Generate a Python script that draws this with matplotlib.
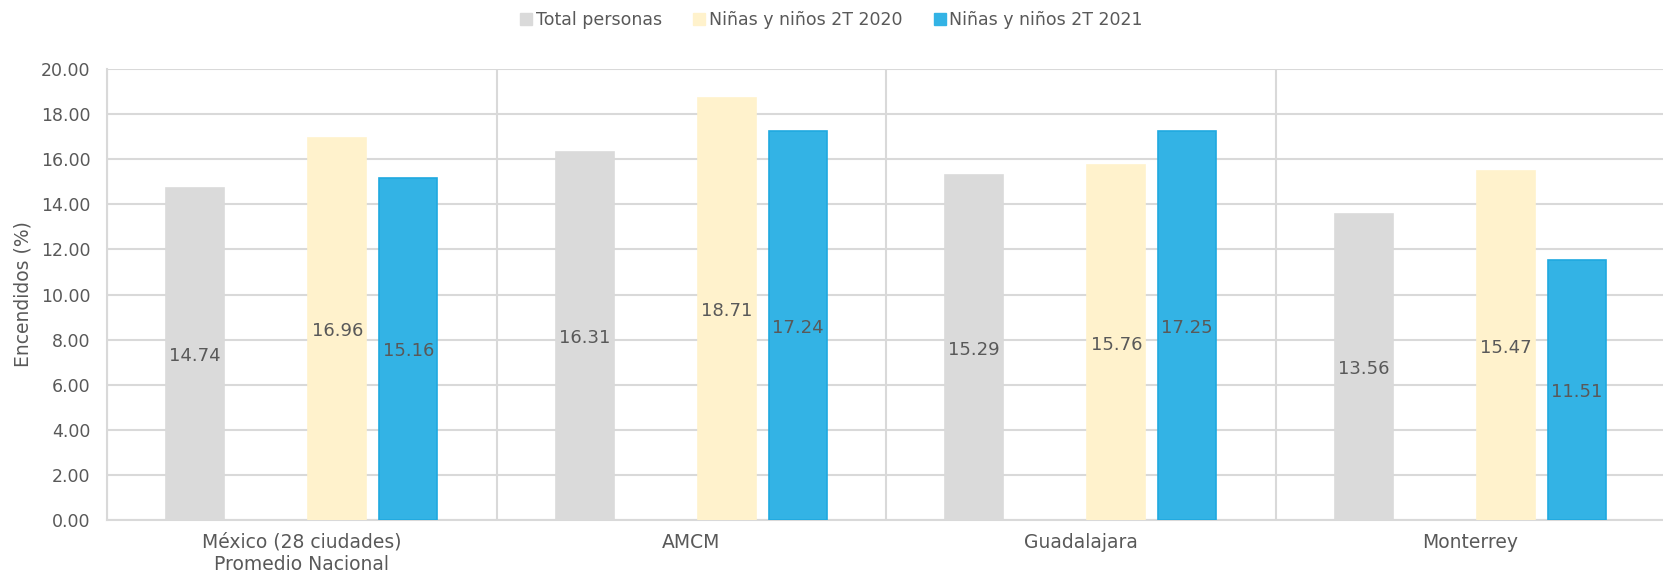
import numpy as np
import matplotlib.pyplot as plt
from matplotlib.patches import Patch

# datos de encendidos por ciudad
ciudades = ["México (28 ciudades)\nPromedio Nacional", "AMCM", "Guadalajara", "Monterrey"]
series = ["Total personas", "Niñas y niños 2T 2020", "Niñas y niños 2T 2021"]
total_personas = [14.74, 16.31, 15.29, 13.56]
ninos_2020 = [16.96, 18.71, 15.76, 15.47]
ninos_2021 = [15.16, 17.24, 17.25, 11.51]

colores = ["#dadada", "#fff2cc", "#33b3e5"]
bordes = ["#dadada", "#fff2cc", "#1fa9e0"]
texto = "#595959"

plt.rcParams['font.family'] = ['DejaVu Sans']

fig = plt.figure(figsize=(16.63, 5.76), dpi=100)
ax = fig.add_axes([107/1663, 56/576, 1558/1663, 451/576])

x = np.arange(len(ciudades))
paso = 0.1823
ancho = 0.149
# cuatro huecos por grupo, el segundo queda vacío
offsets = [-1.5*paso, 0.5*paso, 1.5*paso]
valores = [total_personas, ninos_2020, ninos_2021]

for vals, off, c, b, nombre in zip(valores, offsets, colores, bordes, series):
    barras = ax.bar(x + off, vals, width=ancho, color=c, edgecolor=b, linewidth=1.2,
                    label=nombre, zorder=3)
    for rect, v in zip(barras, vals):
        ax.text(rect.get_x() + rect.get_width()/2, v/2 - 0.1, f"{v:.2f}",
                ha="center", va="center", fontsize=13, color=texto, zorder=4)

ax.set_xlim(-0.5, len(ciudades) - 0.5)
ax.set_ylim(0, 20)
ax.set_yticks(np.arange(0, 20.01, 2))
ax.set_yticklabels([f"{v:.2f}" for v in np.arange(0, 20.01, 2)])
ax.set_xticks(x)
ax.set_xticklabels(ciudades, fontsize=13.5)
ax.set_xticks(np.arange(-0.5, len(ciudades)), minor=True)

ax.grid(axis="y", color="#d9d9d9", linewidth=1.5, zorder=0)
ax.grid(axis="x", which="minor", color="#d9d9d9", linewidth=1.5, zorder=0)
ax.tick_params(axis="both", which="both", length=0, labelcolor=texto)
ax.tick_params(axis="y", labelsize=12.5, pad=12)
ax.tick_params(axis="x", pad=9)

for lado in ["top", "right"]:
    ax.spines[lado].set_visible(False)
for lado in ["left", "bottom"]:
    ax.spines[lado].set_color("#d9d9d9")
    ax.spines[lado].set_linewidth(1.5)

ax.set_ylabel("Encendidos (%)", fontsize=13.5, color=texto, labelpad=6)

manejadores = [Patch(facecolor=c, edgecolor=c) for c in colores]
fig.legend(manejadores, series, loc="center", bbox_to_anchor=(0.5, 0.965), ncol=3,
           frameon=False, fontsize=12.5, labelcolor=texto, handlelength=0.7,
           handleheight=0.7, handletextpad=0.2, columnspacing=1.8)

fig.savefig("out.png", dpi=100)
